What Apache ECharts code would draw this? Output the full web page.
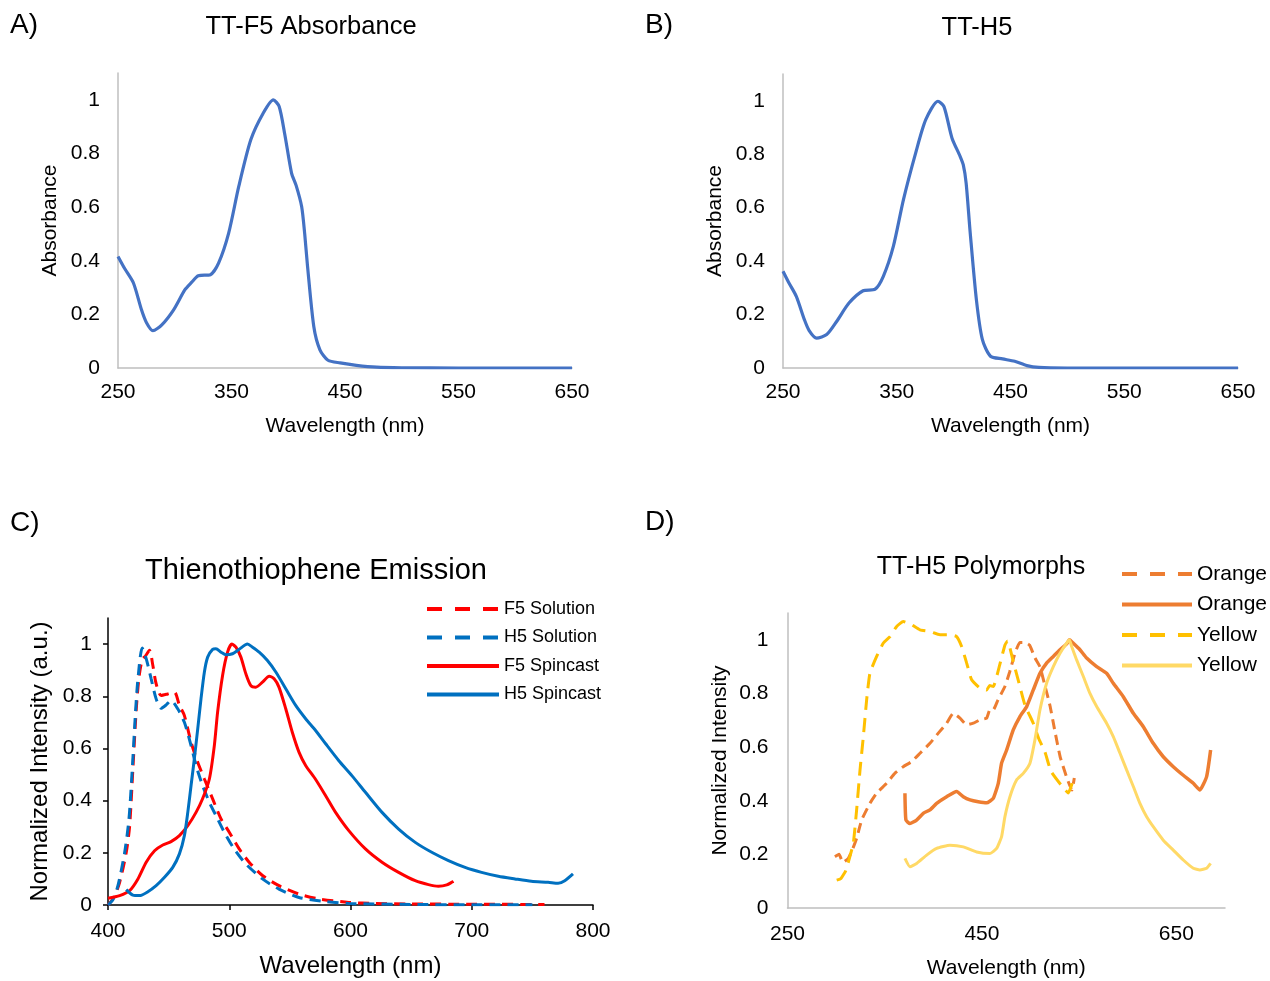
<!DOCTYPE html>
<html>
<head>
<meta charset="utf-8">
<script src="https://cdn.jsdelivr.net/npm/echarts@6/dist/echarts.min.js"></script>
<style>
html,body{margin:0;padding:0;background:#fff;}
#c{width:1270px;height:981px;}
</style>
</head>
<body>
<div id="c"></div>
<script>
// ---------- DATA ----------
// Panel A: TT-F5 absorbance [wavelength nm, absorbance]
const absF5 = [[250,0.416],[256,0.37],[263.6,0.317],[270.7,0.217],[275,0.17],[280.7,0.139],[288.6,0.161],[299,0.217],[309,0.292],[315,0.32],[320.7,0.344],[331.4,0.348],[338.6,0.391],[347.5,0.503],[356.4,0.677],[367,0.851],[377.9,0.95],[386.8,1.0],[392,0.975],[397,0.87],[402.9,0.727],[407,0.68],[411.8,0.602],[414.5,0.5],[417,0.379],[422.5,0.155],[427.9,0.068],[435,0.029],[445.7,0.019],[460,0.010],[478,0.003],[500,0.001],[550,0],[600,0],[650,0]];
// Panel B: TT-H5 absorbance
const absH5 = [[250,0.362],[255,0.32],[261.7,0.268],[268.8,0.181],[273,0.14],[279.5,0.112],[288.4,0.125],[297.3,0.175],[308,0.243],[320.4,0.289],[331,0.295],[338.2,0.343],[347,0.455],[355.9,0.63],[366.6,0.804],[375.5,0.929],[386.2,0.998],[391.5,0.978],[398.6,0.86],[405.7,0.792],[408.5,0.76],[411,0.692],[414.6,0.505],[420,0.256],[425.3,0.106],[432.4,0.044],[443,0.034],[453.7,0.025],[464.4,0.009],[475,0.002],[500,0],[550,0],[600,0],[650,0]];
// Panel C: emission
const f5Solution = [[400,0.0],[405,0.03],[409.6,0.087],[415,0.20],[417.8,0.30],[420.5,0.52],[423.3,0.75],[425.5,0.87],[428.2,0.94],[431,0.955],[434.2,0.976],[437,0.918],[439.7,0.848],[443.8,0.803],[449.3,0.809],[454.8,0.816],[458.9,0.765],[463,0.726],[468.5,0.624],[474,0.547],[479.5,0.483],[486.3,0.407],[493.2,0.33],[500,0.279],[508.2,0.215],[516.4,0.164],[527.4,0.113],[541,0.074],[557.5,0.042],[574,0.023],[598.6,0.010],[620,0.006],[650,0.004],[700,0.003],[760,0.002]];
const h5Solution = [[400,0.0],[404,0.02],[408.2,0.074],[413.7,0.20],[417.3,0.33],[420,0.52],[422.7,0.74],[424.7,0.867],[428.2,0.985],[431.5,0.944],[435.6,0.867],[439.7,0.79],[443.8,0.754],[448,0.767],[452,0.784],[457.5,0.752],[463,0.70],[468.5,0.611],[472.6,0.535],[478,0.458],[483.6,0.394],[489,0.343],[495.9,0.279],[504,0.215],[513.7,0.157],[527.4,0.10],[541,0.061],[557.5,0.029],[579.5,0.013],[598.6,0.006],[650,0.002],[700,0.001],[750,0.001]];
const f5Spincast = [[400,0.026],[409.6,0.036],[417.8,0.055],[424.7,0.10],[431.5,0.164],[438.4,0.208],[445.2,0.23],[452,0.243],[458.9,0.266],[465.8,0.304],[472.6,0.355],[478,0.407],[483.6,0.483],[487.7,0.611],[490.4,0.739],[494.5,0.88],[498.6,0.969],[502.2,1.0],[505.5,0.988],[509.6,0.95],[513.7,0.886],[517.8,0.841],[521.9,0.835],[527.4,0.854],[532.9,0.877],[537,0.867],[541,0.835],[546.6,0.752],[552,0.662],[557.5,0.586],[563,0.535],[571,0.483],[579.5,0.419],[587.7,0.355],[598.6,0.285],[612.3,0.215],[626,0.164],[639.7,0.125],[653.4,0.093],[664.3,0.078],[672.5,0.072],[679.4,0.077],[684.9,0.091]];
const h5Spincast = [[415,0.059],[420.5,0.038],[426,0.036],[432.9,0.051],[439.7,0.074],[446.6,0.106],[453.4,0.144],[458.9,0.196],[463,0.266],[465.8,0.355],[468.5,0.458],[471.2,0.56],[474,0.675],[476.7,0.79],[479.5,0.893],[482.2,0.95],[486.3,0.98],[489,0.982],[493.2,0.969],[497.3,0.959],[502.7,0.963],[508.2,0.98],[515,1.0],[519.2,0.988],[524.7,0.969],[531.5,0.937],[538.4,0.893],[546.6,0.829],[554.8,0.765],[563,0.714],[571.2,0.669],[579.5,0.618],[590.4,0.553],[601.3,0.495],[612.3,0.432],[626,0.355],[639.7,0.291],[653.4,0.24],[667,0.202],[680.8,0.17],[694.5,0.144],[708.1,0.125],[721.9,0.11],[735.6,0.10],[749.2,0.091],[763,0.087],[771.2,0.083],[776.7,0.093],[783.5,0.119]];
// Panel D: polymorphs
const orangeDashed = [[298.8,0.191],[303,0.2],[307,0.17],[312.6,0.185],[317,0.22],[321.1,0.26],[326.3,0.328],[334.8,0.39],[341.7,0.428],[352,0.465],[360.6,0.503],[369.1,0.527],[377.7,0.546],[386.3,0.577],[396.5,0.614],[405.1,0.652],[413.7,0.689],[420.5,0.726],[427.4,0.708],[434.3,0.683],[441.1,0.689],[448,0.702],[454.8,0.708],[458.2,0.739],[461.6,0.739],[466.5,0.776],[473.6,0.826],[478.5,0.88],[484,0.95],[489,0.99],[494,0.99],[499,0.98],[504.5,0.933],[509.6,0.9],[514,0.84],[520,0.754],[525,0.66],[530.5,0.563],[537.4,0.485],[542.5,0.44],[545,0.485]];
const orangeSolid = [[370.8,0.428],[371.8,0.328],[375.9,0.315],[382.8,0.328],[389.6,0.353],[396.5,0.366],[403.4,0.39],[413.7,0.415],[424,0.434],[430.8,0.415],[437.7,0.403],[446.2,0.396],[454.8,0.392],[461.6,0.409],[466.8,0.465],[470.2,0.54],[475.4,0.589],[482.2,0.664],[489.1,0.714],[496,0.751],[502.8,0.813],[509.7,0.875],[516.5,0.913],[523.4,0.938],[530.3,0.963],[537.1,0.985],[540,1.0],[544,0.987],[550.8,0.963],[557.7,0.932],[568,0.9],[578.2,0.875],[585.1,0.838],[595.4,0.788],[605.7,0.726],[616,0.676],[626.2,0.614],[636.5,0.564],[646.8,0.527],[657.1,0.495],[667.4,0.465],[674.2,0.44],[681.1,0.49],[685.2,0.589]];
const yellowDashed = [[300.6,0.104],[305,0.11],[310,0.14],[314,0.19],[317.7,0.241],[321.1,0.366],[324.6,0.515],[328,0.639],[331.4,0.776],[334.8,0.876],[341.7,0.938],[348.6,0.988],[355.4,1.012],[362.3,1.05],[369.1,1.068],[377.7,1.056],[386.3,1.037],[396.5,1.031],[406.8,1.019],[417.1,1.019],[423.9,1.012],[429.1,0.975],[434.3,0.913],[439.4,0.851],[448,0.82],[454.8,0.813],[458,0.83],[461.6,0.826],[467.8,0.9],[473.6,0.98],[476.4,0.996],[482.2,0.919],[488,0.84],[494.2,0.757],[502.8,0.689],[508.6,0.63],[514.8,0.582],[521,0.51],[531.3,0.459],[538.8,0.429],[543.9,0.478]];
const yellowSolid = [[370.8,0.185],[375.9,0.154],[382.8,0.166],[393.1,0.197],[403.4,0.222],[417.1,0.234],[430.8,0.228],[444.5,0.209],[458.2,0.203],[465.1,0.222],[470.2,0.266],[473.6,0.34],[478.8,0.415],[485.6,0.477],[492.5,0.502],[499.3,0.539],[504.5,0.627],[509.7,0.739],[516.5,0.838],[523.4,0.9],[530.3,0.95],[537.1,0.988],[540,1.0],[542.3,0.975],[547.4,0.925],[554.3,0.863],[561.1,0.8],[568,0.751],[578.2,0.689],[585.1,0.639],[592,0.577],[598.8,0.515],[605.7,0.453],[612.5,0.39],[619.4,0.34],[626.2,0.303],[636.5,0.253],[646.8,0.216],[657.1,0.179],[667.4,0.148],[674.2,0.142],[681.1,0.148],[685.2,0.166]];

// Tick labels
const ticksAbsX = [250,350,450,550,650];
const ticksAbsY = [0,0.2,0.4,0.6,0.8,1];
const ticksEmX = [400,500,600,700,800];
const ticksEmY = [0,0.2,0.4,0.6,0.8,1];
const ticksPolyX = [250,450,650];
const ticksPolyY = [0,0.2,0.4,0.6,0.8,1];

// ---------- CHART ----------
const FONT = "'Liberation Sans', Arial, sans-serif";
const fmtY = v => String(Math.round(v * 10) / 10);

function xAx(gi, min, max, ticks, name, o) {
  return {
    type: 'value', gridIndex: gi, min: min, max: max,
    axisLine: {show: true, lineStyle: {color: o.axisColor, width: o.axisWidth}},
    axisTick: {show: o.ticks, length: 5, customValues: ticks, lineStyle: {color: o.axisColor, width: 1.5}},
    splitLine: {show: false},
    axisLabel: {customValues: ticks, fontSize: o.tickSize, color: '#000', fontFamily: FONT, margin: o.labelMargin},
    name: name, nameLocation: 'middle', nameGap: o.nameGap,
    nameTextStyle: {fontSize: o.nameSize, color: '#000', fontFamily: FONT}
  };
}
function yAx(gi, ticks, name, o) {
  return {
    type: 'value', gridIndex: gi, min: 0, max: 1.1,
    axisLine: {show: true, lineStyle: {color: o.axisColor, width: o.axisWidth}},
    axisTick: {show: o.ticks, length: 5, customValues: ticks, lineStyle: {color: o.axisColor, width: 1.5}},
    splitLine: {show: false},
    axisLabel: {customValues: ticks, formatter: fmtY, fontSize: o.tickSize, color: '#000', fontFamily: FONT, margin: o.labelMargin},
    name: name, nameLocation: 'middle', nameGap: o.nameGap,
    nameTextStyle: {fontSize: o.nameSize, color: '#000', fontFamily: FONT}
  };
}
const greyX = {axisColor: '#bfbfbf', axisWidth: 1.5, ticks: false, tickSize: 21, labelMargin: 14, nameGap: 48, nameSize: 21};
const greyY = {axisColor: '#bfbfbf', axisWidth: 1.5, ticks: false, tickSize: 21, labelMargin: 18, nameGap: 57, nameSize: 21};
const blkX = {axisColor: '#000', axisWidth: 1.5, ticks: true, tickSize: 21, labelMargin: 16, nameGap: 49, nameSize: 24};
const blkY = {axisColor: '#000', axisWidth: 1.5, ticks: true, tickSize: 21, labelMargin: 16, nameGap: 56, nameSize: 24};
const dX = Object.assign({}, greyX, {labelMargin: 16, nameGap: 50});
const dY = Object.assign({}, greyY, {labelMargin: 19, nameGap: 57});

function ser(name, data, xi, color, width, dash, smooth) {
  return {
    name: name, type: 'line', data: data, xAxisIndex: xi, yAxisIndex: xi,
    symbol: 'none', smooth: smooth === undefined ? 0.25 : smooth, animation: false,
    itemStyle: {color: color},
    lineStyle: {color: color, width: width, type: dash || 'solid'}
  };
}

function ttl(text, left, top, size, align) {
  return {text: text, left: left, top: top, padding: 0, textAlign: align || 'left',
    textStyle: {fontSize: size, fontWeight: 'normal', color: '#000', fontFamily: FONT}};
}

const hiddenSymbol = {opacity: 0, color: 'transparent', borderWidth: 0};

const option = {
  backgroundColor: '#fff',
  animation: false,
  title: [
    ttl('A)', 10, 11, 28), ttl('B)', 645, 11, 28), ttl('C)', 10, 509, 28), ttl('D)', 645, 508, 28),
    ttl('TT-F5 Absorbance', 311, 14, 25.5, 'center'),
    ttl('TT-H5', 977, 15, 25.5, 'center'),
    ttl('Thienothiophene Emission', 316, 556, 29, 'center'),
    ttl('TT-H5 Polymorphs', 981, 555, 25, 'center')
  ],
  grid: [
    {left: 118, top: 73, width: 454, height: 295},
    {left: 783, top: 74, width: 455, height: 294},
    {left: 108, top: 618, width: 485, height: 287},
    {left: 787.5, top: 613, width: 437.5, height: 295}
  ],
  xAxis: [
    xAx(0, 250, 650, ticksAbsX, 'Wavelength (nm)', greyX),
    xAx(1, 250, 650, ticksAbsX, 'Wavelength (nm)', greyX),
    xAx(2, 400, 800, ticksEmX, 'Wavelength (nm)', blkX),
    xAx(3, 250, 700, ticksPolyX, 'Wavelength (nm)', dX)
  ],
  yAxis: [
    yAx(0, ticksAbsY, 'Absorbance', greyY),
    yAx(1, ticksAbsY, 'Absorbance', greyY),
    yAx(2, ticksEmY, 'Normalized Intensity (a.u.)', blkY),
    yAx(3, ticksPolyY, 'Normalized Intensity', dY)
  ],
  legend: [
    {
      orient: 'vertical', left: 425, top: 600, itemWidth: 72, itemHeight: 14, itemGap: 10.5,
      selectedMode: false, padding: 0,
      textStyle: {fontSize: 18, color: '#000', fontFamily: FONT, lineHeight: 18},
      lineStyle: {width: 4},
      itemStyle: hiddenSymbol,
      data: [
        {name: 'F5 Solution', lineStyle: {type: [15, 13]}},
        {name: 'H5 Solution', lineStyle: {type: [15, 13]}},
        {name: 'F5 Spincast'},
        {name: 'H5 Spincast'}
      ]
    },
    {
      orient: 'vertical', left: 1120, top: 563.5, itemWidth: 70, itemHeight: 14, itemGap: 9.5,
      selectedMode: false, padding: 0,
      textStyle: {fontSize: 21, color: '#000', fontFamily: FONT, lineHeight: 21},
      lineStyle: {width: 4},
      itemStyle: hiddenSymbol,
      formatter: n => n.split(' ')[0],
      data: [
        {name: 'Orange dashed', lineStyle: {type: [15, 13]}},
        {name: 'Orange solid'},
        {name: 'Yellow dashed', lineStyle: {type: [15, 13]}},
        {name: 'Yellow solid'}
      ]
    }
  ],
  series: [
    ser('TT-F5', absF5, 0, '#4472C4', 3.2),
    ser('TT-H5', absH5, 1, '#4472C4', 3.2),
    ser('F5 Solution', f5Solution, 2, '#FF0000', 3, [11, 7]),
    ser('H5 Solution', h5Solution, 2, '#0070C0', 3, [11, 7]),
    ser('F5 Spincast', f5Spincast, 2, '#FF0000', 3),
    ser('H5 Spincast', h5Spincast, 2, '#0070C0', 3),
    ser('Orange dashed', orangeDashed, 3, '#ED7D31', 3, [10, 6], 0.15),
    ser('Orange solid', orangeSolid, 3, '#ED7D31', 3.5, null, 0.15),
    ser('Yellow dashed', yellowDashed, 3, '#FFC000', 3, [14, 8], 0.15),
    ser('Yellow solid', yellowSolid, 3, '#FFD966', 3, null, 0.15)
  ]
};
const chart = echarts.init(document.getElementById('c'), null, {renderer: 'canvas'});
chart.setOption(option);
</script>
</body>
</html>
